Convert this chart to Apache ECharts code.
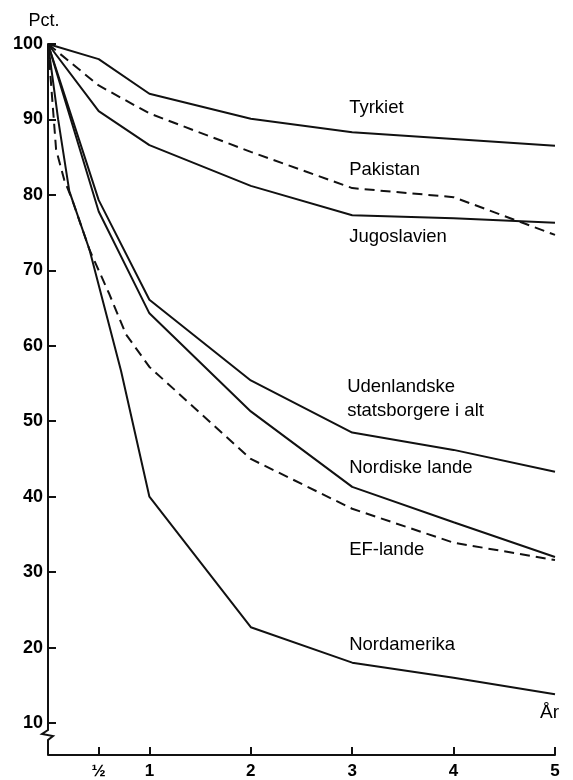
<!DOCTYPE html>
<html><head><meta charset="utf-8">
<script src="https://cdn.jsdelivr.net/npm/echarts@6/dist/echarts.min.js"></script>
<style>html,body{margin:0;padding:0;background:#fff}#c{width:573px;height:780px}</style>
</head><body><div id="c"></div>
<script>
// ---- data ----
const xTickValues = [0.5, 1, 2, 3, 4, 5];
const xTickLabels = ['½', '1', '2', '3', '4', '5'];
const yTickValues = [10, 20, 30, 40, 50, 60, 70, 80, 90, 100];

const tyrkiet      = [[0,100],[0.5,98.0],[1,93.4],[2,90.1],[3,88.3],[4,87.4],[5,86.5]];
const pakistan     = [[0,100],[0.5,94.5],[1,90.8],[2,85.7],[3,80.9],[4,79.7],[5,74.7]];
const jugoslavien  = [[0,100],[0.5,91.1],[1,86.6],[2,81.2],[3,77.3],[4,76.9],[5,76.3]];
const udenlandske  = [[0,100],[0.5,79.3],[1,66.1],[2,55.4],[3,48.5],[4,46.2],[5,43.3]];
const nordiske     = [[0,100],[0.5,77.8],[1,64.3],[2,51.3],[3,41.3],[4,36.6],[5,32.0]];
const efLande      = [[0,100],[0.08,86],[0.16,82],[0.24,79.3],[0.41,72.7],[0.6,67],[0.77,61.5],[1,57.2],[2,45.0],[3,38.4],[4,33.9],[5,31.6]];
const nordamerika  = [[0,100],[0.1,90],[0.21,80.5],[0.41,72.7],[0.72,56.7],[1,40.0],[2,22.7],[3,18.0],[4,16.0],[5,13.8]];

const seriesNames  = ['Tyrkiet','Pakistan','Jugoslavien','Udenlandske\nstatsborgere i alt','Nordiske lande','EF-lande','Nordamerika'];
const seriesData   = [tyrkiet, pakistan, jugoslavien, udenlandske, nordiske, efLande, nordamerika];
const seriesDashed = [false, true, false, false, false, true, false];
const labelAnchors = [[2.97,91.5],[2.97,83.3],[2.97,74.4],[2.95,52.9],[2.97,43.8],[2.97,33.0],[2.97,20.4]];

// ---- chart ----
const FONT = 'Liberation Sans, Arial, Helvetica, sans-serif';
const INK = '#111';
const chart = echarts.init(document.getElementById('c'), null, {renderer: 'canvas'});

const series = seriesData.map((d, i) => ({
  type: 'line',
  name: seriesNames[i],
  data: d,
  symbol: 'none',
  silent: true,
  lineStyle: {color: INK, width: 2, type: seriesDashed[i] ? [10, 6] : 'solid'},
  markPoint: {
    symbol: 'circle', symbolSize: 0, silent: true,
    data: [{coord: labelAnchors[i], value: seriesNames[i]}],
    label: {show: true, position: 'right', distance: 0, formatter: seriesNames[i],
      color: '#000', fontFamily: FONT, fontSize: 18.5, lineHeight: 24, align: 'left'}
  }
}));

chart.setOption({
  animation: false,
  backgroundColor: '#fff',
  grid: {left: 48, right: 18, top: 44, bottom: 56},
  xAxis: {
    type: 'value', min: 0, max: 5, offset: 32,
    axisLine: {show: true, lineStyle: {color: INK, width: 2}},
    axisTick: {show: true, inside: true, length: 8, customValues: xTickValues, lineStyle: {color: INK, width: 2}},
    axisLabel: {show: true, customValues: xTickValues, margin: 8,
      formatter: v => xTickLabels[xTickValues.indexOf(v)],
      color: '#000', fontFamily: FONT, fontSize: 17, fontWeight: 'bold'},
    splitLine: {show: false}
  },
  yAxis: {
    type: 'value', min: 10, max: 100, interval: 10,
    axisLine: {show: true, lineStyle: {color: INK, width: 2}},
    axisTick: {show: true, inside: true, length: 8, lineStyle: {color: INK, width: 2}},
    axisLabel: {show: true, margin: 5, color: '#000', fontFamily: FONT, fontSize: 18, fontWeight: 'bold'},
    splitLine: {show: false}
  },
  series: series
});

// axis break + titles, placed through the chart's own scales
const p10 = chart.convertToPixel({gridIndex: 0}, [0, 10]);
const p100 = chart.convertToPixel({gridIndex: 0}, [0, 100]);
const p5 = chart.convertToPixel({gridIndex: 0}, [5, 10]);
const x0 = p10[0], y0 = p10[1], yAx = y0 + 32;
chart.setOption({
  graphic: [
    {type: 'polyline', silent: true,
     shape: {points: [[x0, y0], [x0, y0 + 7], [x0 - 6, y0 + 11], [x0 + 5, y0 + 13], [x0, y0 + 17], [x0, yAx]]},
     style: {stroke: INK, lineWidth: 2, fill: null}},
    {type: 'text', silent: true, x: x0 - 4, y: p100[1] - 23,
     style: {text: 'Pct.', fontFamily: FONT, fontSize: 18, fill: '#000', align: 'center', verticalAlign: 'middle'}},
    {type: 'text', silent: true, x: p5[0] + 4, y: y0 - 10,
     style: {text: 'År', fontFamily: FONT, fontSize: 19, fill: '#000', align: 'right', verticalAlign: 'middle'}}
  ]
});
</script>
</body></html>
